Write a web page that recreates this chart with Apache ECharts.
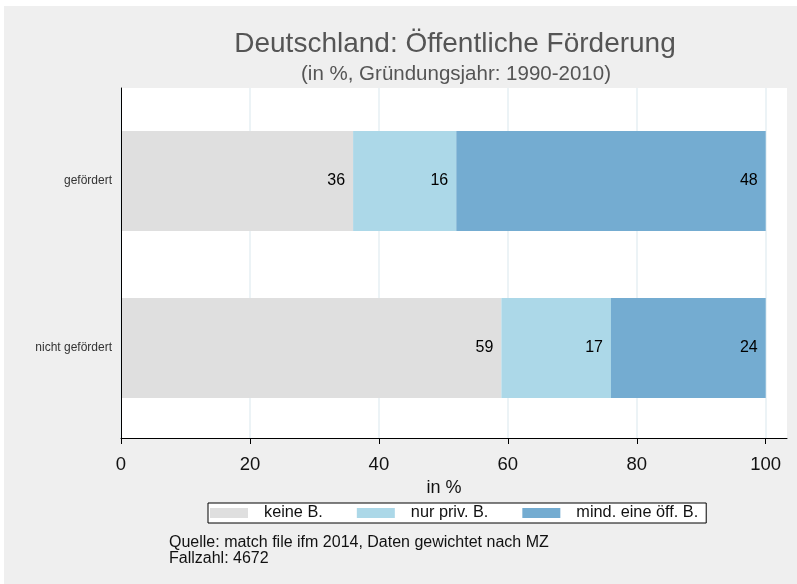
<!DOCTYPE html>
<html>
<head>
<meta charset="utf-8">
<script src="https://cdn.jsdelivr.net/npm/echarts@6/dist/echarts.min.js"></script>
<style>
html, body { margin: 0; padding: 0; background: #ffffff; }
#chart { width: 797px; height: 584px; }
</style>
</head>
<body>
<div id="chart"></div>
<script>
// Daten
const categories = ['nicht gefördert', 'gefördert'];
const seriesNames = ['keine B.', 'nur priv. B.', 'mind. eine öff. B.'];
const keineB = [59, 36];
const nurPrivB = [17, 16];
const mindOeffB = [24, 48];
const xTicks = [0, 20, 40, 60, 80, 100];

const colors = ['#dfdfdf', '#acd8e8', '#74acd1'];
const seriesValues = [keineB, nurPrivB, mindOeffB];

const chart = echarts.init(document.getElementById('chart'));

const series = seriesNames.map(function (name, i) {
  return {
    name: name,
    type: 'bar',
    stack: 'total',
    xAxisIndex: 1,
    yAxisIndex: 1,
    barWidth: 100,
    itemStyle: { color: colors[i] },
    label: {
      show: true,
      position: 'insideRight',
      distance: 8,
      color: '#000',
      fontSize: 16
    },
    data: seriesValues[i]
  };
});

const option = {
  backgroundColor: '#ffffff',
  animation: false,
  textStyle: { fontFamily: 'Liberation Sans' },
  graphic: [
    {
      type: 'rect',
      z: -100,
      shape: { x: 4, y: 6, width: 793, height: 578 },
      style: { fill: '#efefef' }
    }
  ],
  title: [
    {
      text: 'Deutschland: Öffentliche Förderung',
      left: 455,
      top: 44,
      padding: 0,
      textAlign: 'center',
      textVerticalAlign: 'middle',
      textStyle: { fontSize: 28, fontWeight: 'normal', color: '#555555' }
    },
    {
      text: '(in %, Gründungsjahr: 1990-2010)',
      left: 456,
      top: 74,
      padding: 0,
      textAlign: 'center',
      textVerticalAlign: 'middle',
      textStyle: { fontSize: 20.5, fontWeight: 'normal', color: '#555555' }
    },
    {
      text: 'Quelle: match file ifm 2014, Daten gewichtet nach MZ\nFallzahl: 4672',
      left: 169,
      top: 535,
      padding: 0,
      textStyle: { fontSize: 16, lineHeight: 16, fontWeight: 'normal', color: '#111111' }
    }
  ],
  legend: {
    data: seriesNames,
    left: 208,
    top: 503,
    orient: 'horizontal',
    icon: 'rect',
    itemWidth: 38,
    itemHeight: 10,
    itemGap: 34,
    padding: [2, 8, 2, 2],
    borderColor: '#000',
    borderWidth: 1,
    backgroundColor: '#ffffff',
    selectedMode: false,
    textStyle: { fontSize: 16.3, color: '#111111', padding: [0, 0, 0, 11] }
  },
  grid: [
    // Plotbereich mit Achsen
    { left: 121, right: 10, top: 88, height: 350, show: true, backgroundColor: '#ffffff', borderWidth: 0 },
    // Balken
    { left: 121, right: 10, top: 97.5, height: 334 }
  ],
  xAxis: [
    {
      gridIndex: 0,
      type: 'value',
      min: 0,
      max: 103.3,
      interval: 20,
      name: 'in %',
      nameLocation: 'middle',
      nameGap: 34,
      nameTextStyle: { fontSize: 18, color: '#111111', padding: [0, 20, 0, 0] },
      axisLine: { show: true, lineStyle: { color: '#000', width: 1 } },
      axisTick: { show: true, length: 6, customValues: xTicks, lineStyle: { color: '#000' } },
      axisLabel: {
        fontSize: 18.5,
        color: '#111111',
        margin: 17,
        customValues: xTicks,
        formatter: function (v) { return xTicks.indexOf(v) >= 0 ? String(v) : ''; }
      },
      splitLine: { show: true, lineStyle: { color: '#e6eff3', width: 1.5 } }
    },
    {
      gridIndex: 1,
      type: 'value',
      min: 0,
      max: 103.3,
      show: false,
      splitLine: { show: false }
    }
  ],
  yAxis: [
    {
      gridIndex: 0,
      type: 'category',
      data: categories,
      z: 10,
      axisLine: { show: true, lineStyle: { color: '#000', width: 1 } },
      axisTick: { show: false },
      axisLabel: { show: false },
      splitLine: { show: false }
    },
    {
      gridIndex: 1,
      type: 'category',
      data: categories,
      axisLine: { show: false },
      axisTick: { show: false },
      axisLabel: { fontSize: 12, color: '#333333', margin: 9 },
      splitLine: { show: false }
    }
  ],
  series: series
};

chart.setOption(option);
window.addEventListener('resize', function () {
  chart.resize();
});
</script>
</body>
</html>
